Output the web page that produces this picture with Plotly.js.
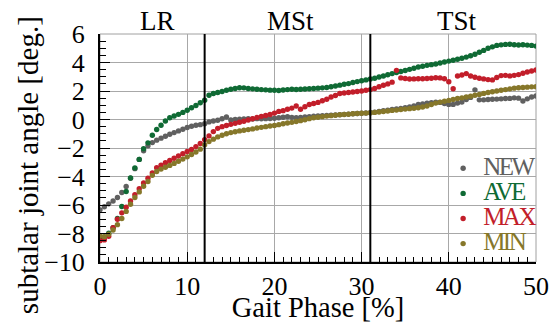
<!DOCTYPE html>
<html>
<head>
<meta charset="utf-8">
<script src="https://cdn.plot.ly/plotly-3.0.1.min.js"></script>
<style>html,body{margin:0;padding:0;background:#fff;}#chart{width:554px;height:323px;}</style>
</head>
<body>
<div id="chart"></div>
<script>
// Gait phase [%] sample positions (every 0.5 %)
const gaitPhase = [0,0.5,1,1.5,2,2.5,3,3.5,4,4.5,5,5.5,6,6.5,7,7.5,8,8.5,9,9.5,10,10.5,11,11.5,12,12.5,13,13.5,14,14.5,15,15.5,16,16.5,17,17.5,18,18.5,19,19.5,20,20.5,21,21.5,22,22.5,23,23.5,24,24.5,25,25.5,26,26.5,27,27.5,28,28.5,29,29.5,30,30.5,31,31.5,32,32.5,33,33.5,34,34.5,35,35.5,36,36.5,37,37.5,38,38.5,39,39.5,40,40.5,41,41.5,42,42.5,43,43.5,44,44.5,45,45.5,46,46.5,47,47.5,48,48.5,49,49.5,50];

const angleNEW = [-6.34,-6.12,-5.92,-5.72,-5.47,-5.12,-4.7,-4.12,-3.45,-2.8,-2.2,-1.85,-1.62,-1.45,-1.31,-1.18,-1.04,-0.92,-0.8,-0.68,-0.56,-0.47,-0.4,-0.36,-0.3,-0.17,-0.1,-0.05,0.05,0.18,-0.04,0.0,0.02,0.03,0.05,0.04,0.06,0.05,0.06,0.07,0.09,0.12,0.16,0.19,0.15,0.13,0.14,0.18,0.2,0.23,0.25,0.27,0.29,0.31,0.32,0.34,0.36,0.38,0.4,0.42,0.44,0.46,0.48,0.52,0.57,0.62,0.66,0.7,0.74,0.78,0.83,0.88,0.95,1.05,1.1,1.14,1.18,1.22,1.2,1.12,1.06,1.06,1.15,1.22,1.4,1.55,2.08,1.38,1.38,1.4,1.42,1.43,1.45,1.47,1.48,1.52,1.5,1.3,1.45,1.58,1.65];

const angleAVE = [-8.3,-8.25,-7.98,-7.6,-6.95,-6.1,-5.05,-4.1,-3.4,-2.8,-2.05,-1.64,-1.1,-0.7,-0.4,-0.1,0.12,0.25,0.36,0.5,0.65,0.82,0.98,1.18,1.35,1.7,1.82,1.9,1.97,2.05,2.12,2.18,2.23,2.22,2.18,2.15,2.12,2.1,2.08,2.06,2.05,2.04,2.07,2.1,2.12,2.11,2.12,2.14,2.16,2.18,2.2,2.22,2.25,2.3,2.35,2.41,2.47,2.52,2.6,2.66,2.72,2.78,2.84,2.9,2.98,3.05,3.14,3.22,3.3,3.37,3.44,3.52,3.6,3.68,3.74,3.8,3.85,3.9,3.96,4.03,4.1,4.16,4.23,4.3,4.38,4.47,4.58,4.72,4.85,5.0,5.1,5.2,5.24,5.27,5.28,5.25,5.23,5.25,5.22,5.2,5.15];

const angleMAX = [-8.5,-8.45,-8.2,-7.6,-7.0,-6.55,-6.15,-5.72,-5.28,-4.86,-4.45,-4.12,-3.75,-3.38,-3.2,-3.04,-2.88,-2.72,-2.56,-2.4,-2.25,-2.1,-1.9,-1.68,-1.41,-1.15,-0.85,-0.62,-0.5,-0.42,-0.34,-0.27,-0.19,-0.12,-0.04,0.05,0.14,0.22,0.28,0.35,0.45,0.57,0.62,0.72,0.8,0.95,0.72,0.9,1.05,1.12,1.2,1.32,1.42,1.58,1.68,1.82,1.86,1.9,1.93,1.97,2.0,2.05,2.1,2.18,2.3,2.4,2.5,2.62,3.45,2.92,2.88,2.84,2.85,2.86,2.86,2.88,2.9,2.93,2.92,2.86,2.65,2.16,3.05,3.12,3.22,3.05,2.96,2.9,2.85,2.8,2.78,2.95,3.08,3.1,3.06,3.1,3.15,3.25,3.33,3.4,3.47];

const angleMIN = [-8.15,-8.22,-8.05,-7.75,-7.38,-6.95,-6.45,-5.95,-5.47,-5.08,-4.68,-4.35,-3.92,-3.65,-3.48,-3.35,-3.22,-3.08,-2.93,-2.78,-2.62,-2.46,-2.28,-2.08,-1.78,-1.55,-1.38,-1.22,-1.1,-1.0,-0.92,-0.86,-0.8,-0.75,-0.71,-0.66,-0.6,-0.55,-0.5,-0.46,-0.42,-0.36,-0.3,-0.25,-0.2,-0.14,-0.08,-0.02,0.06,0.12,0.16,0.2,0.24,0.27,0.3,0.33,0.35,0.37,0.4,0.42,0.44,0.45,0.47,0.5,0.53,0.56,0.6,0.64,0.66,0.7,0.73,0.76,0.79,0.82,0.88,0.95,1.05,1.15,1.22,1.28,1.34,1.41,1.47,1.52,1.58,1.64,1.7,1.76,1.83,1.9,1.95,2.0,2.05,2.1,2.15,2.2,2.23,2.25,2.27,2.29,2.3];

const seriesNames = ['NEW','AVE','MAX','MIN'];
const seriesColors = ['#606060','#0f6a34','#c21e2a','#86772a'];
const seriesValues = [angleNEW, angleAVE, angleMAX, angleMIN];

const phaseBoundaries = [12, 31];
const phaseLabels = ['LR','MSt','TSt'];
const phaseLabelX = [6.6, 21.8, 40.9];

const FONT = 'Liberation Serif, serif';

const traces = seriesNames.map((n, i) => ({
  type: 'scatter',
  mode: 'markers',
  x: gaitPhase,
  y: seriesValues[i],
  name: '<span style="color:' + seriesColors[i] + ';font-size:25px;letter-spacing:-2.5px">' + n + '</span>',
  marker: {color: seriesColors[i], size: 5.4, line: {width: 0}}
}));

const shapes = phaseBoundaries.map(b => ({
  type: 'line', xref: 'x', yref: 'paper', x0: b, x1: b, y0: 0, y1: 1,
  line: {color: '#000', width: 2}
}));
shapes.push({type: 'rect', xref: 'paper', yref: 'paper', x0: 0, x1: 1, y0: 0, y1: 1,
  line: {color: '#a0a0a0', width: 1}, layer: 'below'});

const annotations = phaseLabels.map((t, i) => ({
  text: t, x: phaseLabelX[i], xref: 'x', y: 1, yref: 'paper',
  yanchor: 'bottom', showarrow: false, yshift: -4,
  font: {family: FONT, size: 27, color: '#000'}
}));
// y-axis title, placed like the reference (slightly below the plot's centre)
annotations.push({
  text: 'subtalar joint angle [deg.]', textangle: -90,
  xref: 'paper', yref: 'paper', x: -0.165, y: 0.425,
  xanchor: 'center', yanchor: 'middle', showarrow: false,
  font: {family: FONT, size: 29, color: '#000'}
});

const layout = {
  width: 554, height: 323,
  margin: {l: 100, r: 18, t: 34, b: 61, autoexpand: false},
  paper_bgcolor: '#fff', plot_bgcolor: '#fff',
  font: {family: FONT, size: 26, color: '#000'},
  showlegend: true,
  legend: {
    x: 0.787, y: 0.488, xanchor: 'left', yanchor: 'top',
    bgcolor: 'rgba(0,0,0,0)', font: {family: FONT, size: 17},
    itemwidth: 30, tracegroupgap: 0
  },
  xaxis: {
    range: [0, 50], dtick: 10, tick0: 0,
    showgrid: true, gridcolor: '#a8a8a8', gridwidth: 1, zeroline: false,
    showline: true, linecolor: '#000', linewidth: 2,
    ticks: 'inside', ticklen: 10, tickcolor: '#000', tickwidth: 1,
    tickfont: {family: FONT, size: 26},
    minor: {dtick: 1, ticks: 'inside', ticklen: 5, tickcolor: '#000', showgrid: false},
    title: {text: 'Gait Phase [%]', font: {family: FONT, size: 28.5}, standoff: 9}
  },
  yaxis: {
    range: [-10, 6], dtick: 2, tick0: 0,
    showgrid: true, gridcolor: '#a8a8a8', gridwidth: 1, zeroline: false,
    showline: true, linecolor: '#000', linewidth: 2,
    ticks: 'inside', ticklen: 10, tickcolor: '#000', tickwidth: 1,
    tickfont: {family: FONT, size: 26},
    ticklabelstandoff: 8,
    minor: {dtick: 0.5, ticks: 'inside', ticklen: 6, tickcolor: '#000', showgrid: false}
  },
  shapes: shapes,
  annotations: annotations
};

Plotly.newPlot('chart', traces, layout, {displayModeBar: false, staticPlot: true});
</script>
</body>
</html>
